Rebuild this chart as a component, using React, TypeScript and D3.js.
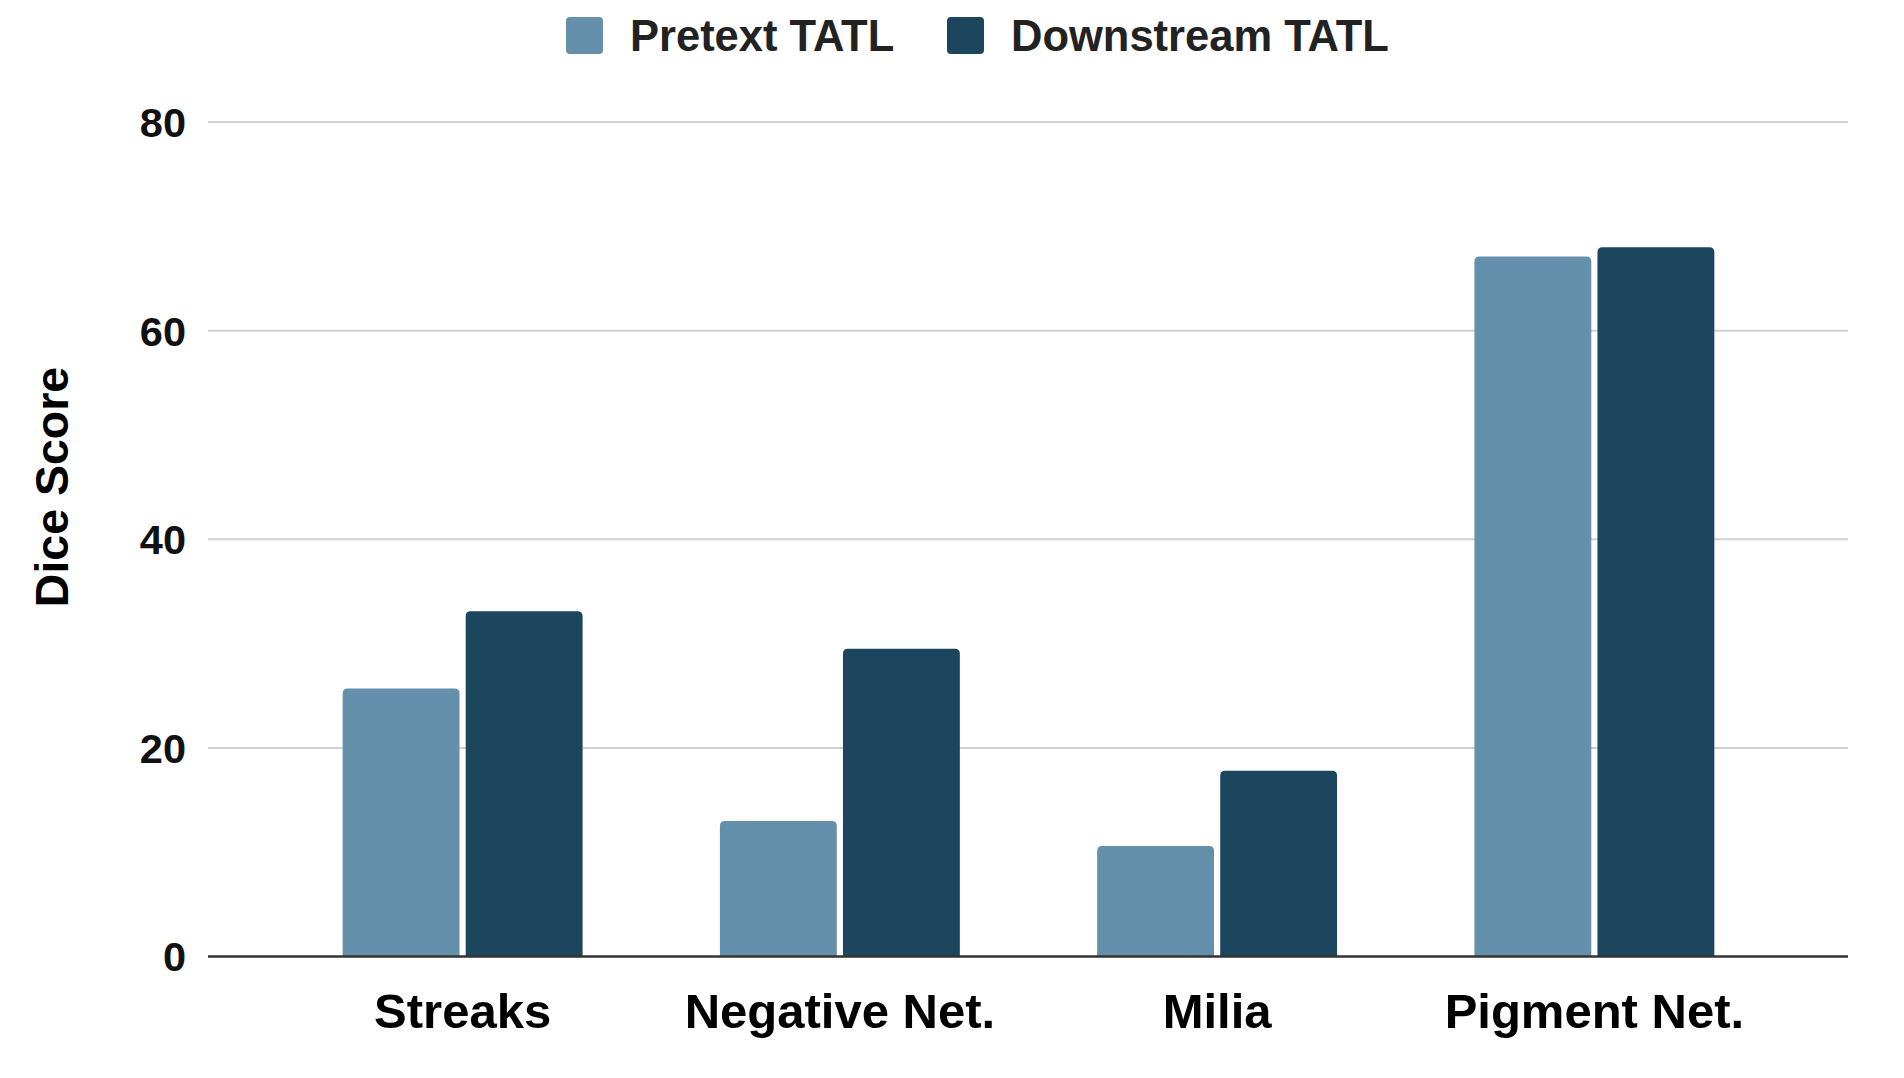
import React, { Component } from 'react';
import * as d3 from 'd3';

const categories = ['Streaks', 'Negative Net.', 'Milia', 'Pigment Net.'];
const seriesNames = ['Pretext TATL', 'Downstream TATL'];
const seriesColours = ['#6490ab', '#1c455e'];
const pretextValues = [25.7, 13.0, 10.6, 67.1];
const downstreamValues = [33.1, 29.5, 17.8, 68.0];
const yTicks = [0, 20, 40, 60, 80];

const FONT = '"Liberation Sans", Arial, sans-serif';

export default class App extends Component {
    private canvas: any = React.createRef();
    private width = 1904;
    private height = 1078;

    componentDidMount() {
        this.buildChart();
    }

    // rect with rounded top corners only
    barPath(x: number, y: number, w: number, h: number, r: number) {
        const rr = Math.min(r, h, w / 2);
        return `M${x},${y + h}V${y + rr}Q${x},${y} ${x + rr},${y}H${x + w - rr}Q${x + w},${y} ${x + w},${y + rr}V${y + h}Z`;
    }

    buildChart = () => {
        const root = d3.select(this.canvas.current);
        root.selectAll('*').remove();

        const svg = root.append('svg')
            .attr('width', this.width)
            .attr('height', this.height)
            .attr('viewBox', `0 0 ${this.width} ${this.height}`)
            .style('position', 'absolute')
            .style('left', '0px')
            .style('top', '0px')
            .style('background', '#ffffff');

        const xScale = d3.scaleBand<string>()
            .domain(categories)
            .range([274, 1783])
            .paddingInner(0.364)
            .paddingOuter(0.182);

        const xInner = d3.scaleBand<string>()
            .domain(seriesNames)
            .range([0, xScale.bandwidth()])
            .paddingInner(0.05);

        const yScale = d3.scaleLinear()
            .domain([0, 80])
            .range([956.5, 122]);

        const plotLeft = 208;
        const plotRight = 1848;

        // gridlines
        svg.append('g')
            .selectAll('line')
            .data(yTicks.filter(t => t !== 0))
            .enter().append('line')
            .attr('x1', plotLeft)
            .attr('x2', plotRight)
            .attr('y1', (d: number) => yScale(d))
            .attr('y2', (d: number) => yScale(d))
            .attr('stroke', '#d0d0d0')
            .attr('stroke-width', 2);

        // y tick labels
        svg.append('g')
            .selectAll('text')
            .data(yTicks)
            .enter().append('text')
            .attr('x', 186)
            .attr('y', (d: number) => yScale(d))
            .attr('dy', '0.36em')
            .attr('text-anchor', 'end')
            .attr('font-family', FONT)
            .attr('font-weight', 'bold')
            .attr('font-size', 41.5)
            .attr('fill', '#111')
            .text((d: number) => d);

        // y axis title
        svg.append('text')
            .attr('transform', 'translate(68,487) rotate(-90)')
            .attr('text-anchor', 'middle')
            .attr('font-family', FONT)
            .attr('font-weight', 'bold')
            .attr('font-size', 46.5)
            .attr('fill', '#000')
            .text('Dice Score');

        // bars
        const series = [pretextValues, downstreamValues];
        series.forEach((values, si) => {
            svg.append('g')
                .selectAll('path')
                .data(values)
                .enter().append('path')
                .attr('d', (d: number, i: number) => {
                    const x = (xScale(categories[i]) as number) + (xInner(seriesNames[si]) as number);
                    const y = yScale(d);
                    return this.barPath(x, y, xInner.bandwidth(), yScale(0) - y, 5);
                })
                .attr('fill', seriesColours[si]);
        });

        // baseline
        svg.append('line')
            .attr('x1', plotLeft)
            .attr('x2', plotRight)
            .attr('y1', yScale(0))
            .attr('y2', yScale(0))
            .attr('stroke', '#333')
            .attr('stroke-width', 2.5);

        // x labels
        svg.append('g')
            .selectAll('text')
            .data(categories)
            .enter().append('text')
            .attr('x', (d: string) => (xScale(d) as number) + xScale.bandwidth() / 2)
            .attr('y', 1028)
            .attr('text-anchor', 'middle')
            .attr('font-family', FONT)
            .attr('font-weight', 'bold')
            .attr('font-size', 49)
            .attr('fill', '#000')
            .text((d: string) => d);

        // legend
        const legendX = [566, 947];
        const legend = svg.append('g')
            .selectAll('g')
            .data(seriesNames)
            .enter().append('g')
            .attr('transform', (d: string, i: number) => `translate(${legendX[i]},17)`);

        legend.append('rect')
            .attr('width', 37)
            .attr('height', 37)
            .attr('rx', 4)
            .attr('fill', (d: string, i: number) => seriesColours[i]);

        legend.append('text')
            .attr('x', 64)
            .attr('y', 34)
            .attr('font-family', FONT)
            .attr('font-weight', 'bold')
            .attr('font-size', 43.5)
            .attr('fill', '#222')
            .text((d: string) => d);
    }

    render() {
        return (
            <div>
                <div className="diceChart" ref={this.canvas}></div>
            </div>
        )
    }
}
